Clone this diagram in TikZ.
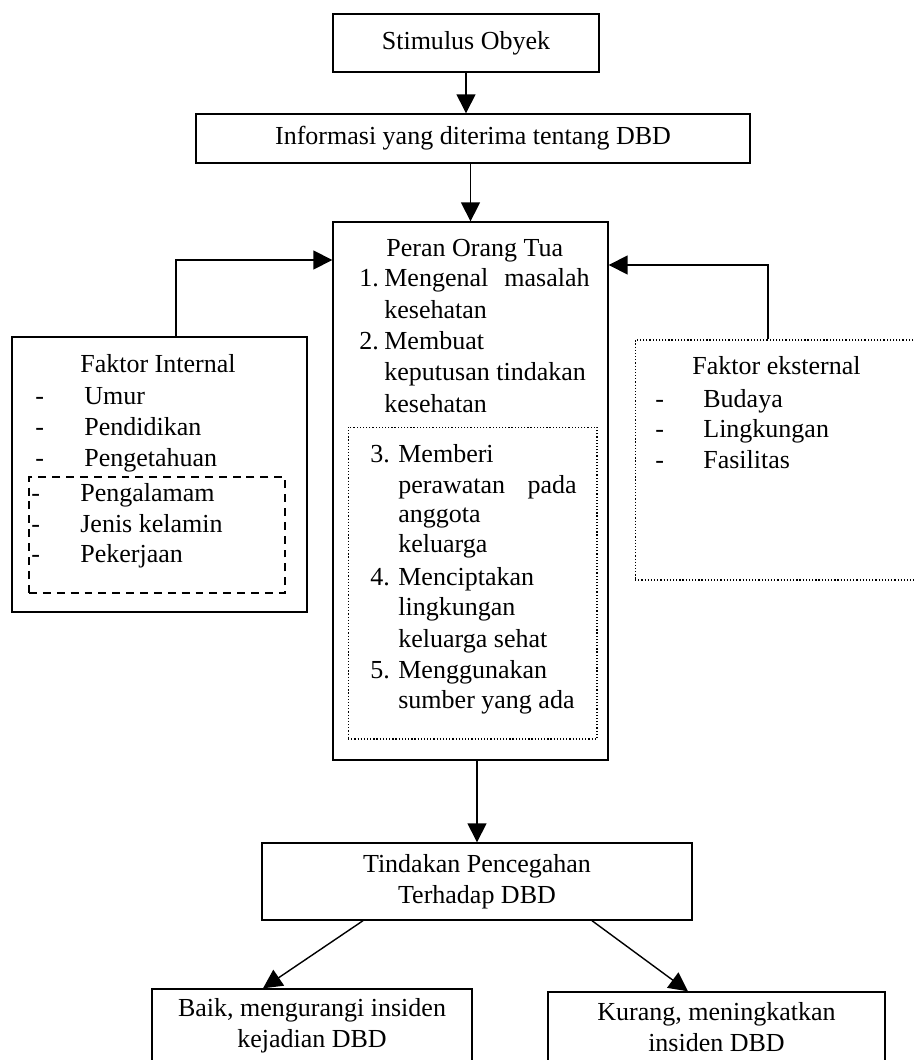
\documentclass[tikz,border=0pt]{standalone}
\usepackage{fontspec}
\setmainfont{Liberation Serif}
\usepackage{tikz}
\usetikzlibrary{positioning,arrows.meta}
\newcommand{\teks}{\fontsize{14.8}{17.6}\selectfont}

\begin{document}
\begin{tikzpicture}[x=0.02cm, y=-0.02cm,
    kotak/.style={draw, line width=0.8pt, inner sep=0, align=center, font=\teks},
    titik/.style={draw, line width=0.6pt, dash pattern=on 0.7pt off 1.1pt, inner sep=0},
    garis/.style={draw, line width=0.7pt, dash pattern=on 4.5pt off 3.4pt, inner sep=0},
    panah/.style={line width=0.8pt, -{Triangle[length=0.38cm, width=0.38cm]}},
    baris/.style={anchor=base west, inner sep=0, font=\teks}]
            % page size of the reference
            \useasboundingbox (0,0) rectangle (913,1060);

            % --- MAIN FLOW ---
            \node[kotak, minimum width=5.32cm, minimum height=1.16cm] (stim) at (466,43) {Stimulus Obyek};
            \node[kotak, minimum width=11.08cm, minimum height=0.98cm] (info) at (473,138.5) {Informasi yang diterima tentang DBD};
            \node[kotak, minimum width=5.5cm, minimum height=10.76cm] (peran) at (470.5,491) {};
            \node[titik, minimum width=4.98cm, minimum height=6.24cm] (aksi) at (472.5,583) {};

            % Peran Orang Tua text
            \node[baris] (judul) at (386,257) {Peran Orang Tua};
            \node[baris] (n1) at (359,287) {1.};
            \node[baris] (p1a) at (384,287) {Mengenal};
            \node[baris, anchor=base east] (p1b) at (590,287) {masalah};
            \node[baris] (p1c) at (384,318) {kesehatan};
            \node[baris] (n2) at (359,350) {2.};
            \node[baris] (p2a) at (384,350) {Membuat};
            \node[baris] (p2b) at (384,380) {keputusan tindakan};
            \node[baris] (p2c) at (384,412) {kesehatan};
            \node[baris] (n3) at (370,462) {3.};
            \node[baris] (p3a) at (398,462) {Memberi};
            \node[baris] (p3b) at (398,493) {perawatan};
            \node[baris, anchor=base east] (p3c) at (577,493) {pada};
            \node[baris] (p3d) at (398,522) {anggota};
            \node[baris] (p3e) at (398,552) {keluarga};
            \node[baris] (n4) at (370,585) {4.};
            \node[baris] (p4a) at (398,585) {Menciptakan};
            \node[baris] (p4b) at (398,615) {lingkungan};
            \node[baris] (p4c) at (398,647) {keluarga sehat};
            \node[baris] (n5) at (370,678) {5.};
            \node[baris] (p5a) at (398,678) {Menggunakan};
            \node[baris] (p5b) at (398,708) {sumber yang ada};

            % --- LEFT: Faktor Internal ---
            \node[kotak, minimum width=5.9cm, minimum height=5.5cm] (intern) at (159.5,474.5) {};
            \node[garis, minimum width=5.12cm, minimum height=2.32cm] (lain) at (157,535) {};
            \node[baris] (fi) at (80,373) {Faktor Internal};
            \node[baris] (d1) at (35,404) {-};
            \node[baris] (umur) at (84,404) {Umur};
            \node[baris] (d2) at (35,435) {-};
            \node[baris] (didik) at (84,435) {Pendidikan};
            \node[baris] (d3) at (35,466) {-};
            \node[baris] (tahu) at (84,466) {Pengetahuan};
            \node[baris] (d4) at (31,501) {-};
            \node[baris] (alam) at (80,501) {Pengalamam};
            \node[baris] (d5) at (31,532) {-};
            \node[baris] (jenis) at (80,532) {Jenis kelamin};
            \node[baris] (d6) at (31,562) {-};
            \node[baris] (kerja) at (80,562) {Pekerjaan};

            % --- RIGHT: Faktor eksternal ---
            \node[titik, minimum width=5.6cm, minimum height=4.8cm] (ekstern) at (775,460) {};
            \node[baris] (fe) at (692,375) {Faktor eksternal};
            \node[baris] (e1) at (655,407) {-};
            \node[baris] (budaya) at (703,407) {Budaya};
            \node[baris] (e2) at (655,437) {-};
            \node[baris] (lingk) at (703,437) {Lingkungan};
            \node[baris] (e3) at (655,468) {-};
            \node[baris] (fasil) at (703,468) {Fasilitas};

            % --- BOTTOM ---
            \node[kotak, minimum width=8.6cm, minimum height=1.54cm] (tindak) at (477,881.5) {Tindakan Pencegahan\\Terhadap DBD};
            \node[kotak, minimum width=6.4cm, minimum height=1.46cm] (baik) at (312,1025.5) {Baik, mengurangi insiden\\kejadian DBD};
            \node[kotak, minimum width=6.74cm, minimum height=1.4cm] (kurang) at (716.5,1027) {Kurang, meningkatkan\\insiden DBD};

            % Arrows
            \draw[panah] (stim.south) -- (stim.south |- info.north);
            \draw[panah] (info.south -| peran.north) -- (peran.north);
            \draw[panah] (intern.north -| 176,0) |- (peran.west |- 0,260);
            \draw[panah] (ekstern.north -| 768,0) |- (peran.east |- 0,265);
            \draw[panah] (peran.south -| tindak.north) -- (tindak.north);
            \draw[panah] (tindak.south -| 363,0) -- (baik.north -| 263,0);
            \draw[panah] (tindak.south -| 592,0) -- (kurang.north -| 688,0);

        \end{tikzpicture}
\end{document}
